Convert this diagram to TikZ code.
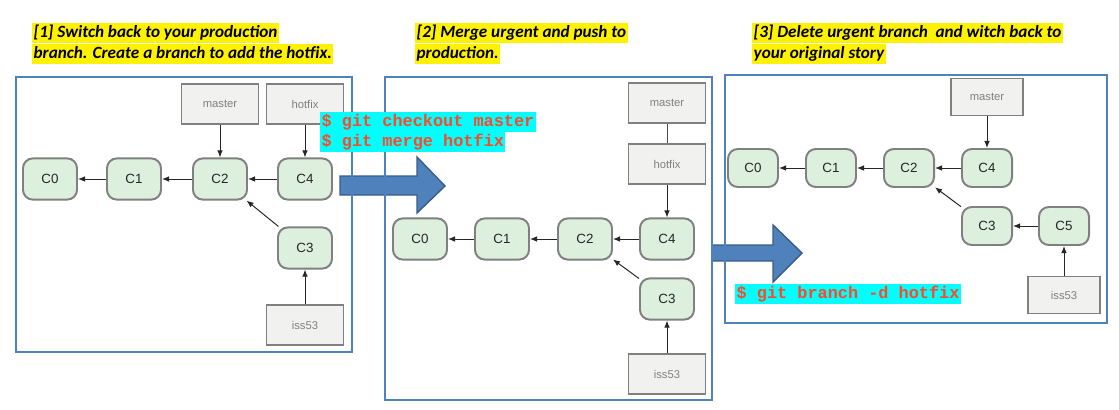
\documentclass[tikz,border=0pt]{standalone}
\usepackage{fontspec}
\setmainfont{Liberation Sans}
\newfontfamily\headfont{Carlito}
\newfontfamily\codefont{Liberation Mono}
\usetikzlibrary{arrows.meta}

\definecolor{panelblue}{RGB}{79,129,189}
\definecolor{arrowedge}{RGB}{56,93,138}
\definecolor{commitfill}{RGB}{221,240,221}
\definecolor{boxedge}{RGB}{128,128,128}
\definecolor{branchfill}{RGB}{241,241,239}
\definecolor{codered}{RGB}{255,72,40}
\definecolor{codebg}{RGB}{0,255,255}

\tikzset{
  panel/.style={draw=panelblue, line width=1.6pt},
  blockarrow/.style={fill=panelblue, draw=arrowedge, line width=1pt},
  heading/.style={fill=yellow, anchor=west, inner xsep=1pt, inner ysep=0.6pt,
    text height=10pt, text depth=3pt, font=\headfont\bfseries\itshape\fontsize{12.2}{14}\selectfont},
  codeline/.style={fill=codebg, anchor=west, inner xsep=1pt, inner ysep=1pt,
    text height=9pt, text depth=3pt, text=codered, font=\codefont\bfseries\fontsize{12}{14}\selectfont},
  commit/.style={draw=boxedge, fill=commitfill, line width=1.4pt, rounded corners=7pt,
    minimum width=1.35cm, minimum height=1.03cm, inner sep=0pt, text=black!85, font=\fontsize{9.5}{11}\selectfont},
  branch/.style={draw=boxedge, fill=branchfill, line width=1.2pt,
    minimum width=1.92cm, minimum height=1cm, inner sep=0pt, text=black!50, font=\fontsize{8}{10}\selectfont},
  tight/.style={minimum width=1.25cm, minimum height=0.95cm},
  tightbranch/.style={minimum width=1.8cm, minimum height=0.93cm},
  link/.style={-{Latex[length=5pt,width=4pt]}, line width=0.7pt, draw=black!85}
}

\begin{document}
\begin{tikzpicture}[x=0.025cm, y=-0.025cm]
  \useasboundingbox (0,0) rectangle (1119,409);

  % arrows between the stages
  \filldraw[blockarrow] (340,176) -- (417,176) -- (417,157) -- (445,186) -- (417,213) -- (417,195) -- (340,195) -- cycle;
  \filldraw[blockarrow] (712,245) -- (773,245) -- (773,225) -- (802,253) -- (773,282) -- (773,261) -- (712,261) -- cycle;

  \draw[panel] (16,77) rectangle (352,352);
  \draw[panel] (385,77) rectangle (712,400);
  \draw[panel] (725,75) rectangle (1107,323);

  % headings
  \node[heading] (head1a) at (32,33) {[1] Switch back to your production\ };
  \node[heading] (head1b) at (32,54) {branch. Create a branch to add the hotfix.};
  \node[heading] (head2a) at (415,33) {[2] Merge urgent and push to};
  \node[heading] (head2b) at (415,54) {production.};
  \node[heading] (head3a) at (752,33) {[3] Delete urgent branch\ \ and witch back to};
  \node[heading] (head3b) at (752,54) {your original story};

  % stage 1
  \node[commit] (a0) at (50,179) {C0};
  \node[commit] (a1) at (134,179) {C1};
  \node[commit] (a2) at (220,179) {C2};
  \node[commit] (a4) at (305,179) {C4};
  \node[commit] (a3) at (305,248) {C3};
  \node[branch] (amaster) at (220,104) {master};
  \node[branch] (ahotfix) at (305,104) {hotfix};
  \node[branch] (aiss) at (305,325) {iss53};
  \draw[link] (a4) -- (a2);
  \draw[link] (a2) -- (a1);
  \draw[link] (a1) -- (a0);
  \draw[link] (a3) -- (a2);
  \draw[link] (amaster) -- (a2);
  \draw[link] (ahotfix) -- (a4);
  \draw[link] (aiss) -- (a3);

  % stage 2
  \node[commit] (b0) at (420,239) {C0};
  \node[commit] (b1) at (502,239) {C1};
  \node[commit] (b2) at (585,239) {C2};
  \node[commit] (b4) at (667,239) {C4};
  \node[commit] (b3) at (667,299) {C3};
  \node[branch] (bmaster) at (667,103) {master};
  \node[branch] (bhotfix) at (667,164) {hotfix};
  \node[branch] (biss) at (667,374) {iss53};
  \draw[link] (b4) -- (b2);
  \draw[link] (b2) -- (b1);
  \draw[link] (b1) -- (b0);
  \draw[link] (b3) -- (b2);
  \draw[line width=0.7pt, draw=black!70] (bmaster) -- (bhotfix);
  \draw[link] (bhotfix) -- (b4);
  \draw[link] (biss) -- (b3);

  % stage 3
  \node[commit, tight] (c0) at (753,168) {C0};
  \node[commit, tight] (c1) at (831,168) {C1};
  \node[commit, tight] (c2) at (909,168) {C2};
  \node[commit, tight] (c4) at (987,168) {C4};
  \node[commit, tight] (c3) at (987,226) {C3};
  \node[commit, tight] (c5) at (1064,226) {C5};
  \node[branch, tightbranch] (cmaster) at (987,97) {master};
  \node[branch, tightbranch] (ciss) at (1064,295) {iss53};
  \draw[link] (c4) -- (c2);
  \draw[link] (c2) -- (c1);
  \draw[link] (c1) -- (c0);
  \draw[link] (c3) -- (c2);
  \draw[link] (c5) -- (c3);
  \draw[link] (cmaster) -- (c4);
  \draw[link] (ciss) -- (c5);

  % commands
  \node[codeline] (cmd1) at (320,122) {\$ git checkout master};
  \node[codeline] (cmd2) at (320,142) {\$ git merge hotfix};
  \node[codeline] (cmd3) at (735,294) {\$ git branch -d hotfix};
\end{tikzpicture}
\end{document}
